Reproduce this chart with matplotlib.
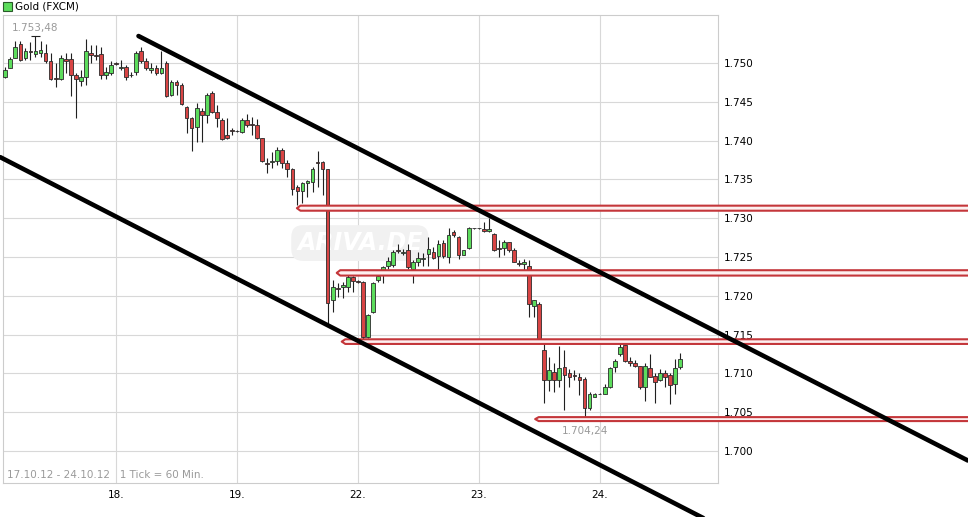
import matplotlib
matplotlib.use('Agg')
import matplotlib.pyplot as plt
from matplotlib.patches import Polygon, Rectangle
import numpy as np

plt.rcParams['font.family'] = ['DejaVu Sans']

# ---------------- data (hourly candles, Gold FXCM, 17.10.12 - 24.10.12) ----------------
opens = [1.7482, 1.7494, 1.7507, 1.7524, 1.7506, 1.7516, 1.7512, 1.7513, 1.7513, 1.7502,
         1.7481, 1.7480, 1.7505, 1.7505, 1.7485, 1.7477, 1.7482, 1.7513, 1.7510, 1.7512,
         1.7484, 1.7487, 1.7500, 1.7493, 1.7495, 1.7485, 1.7489, 1.7515, 1.7502, 1.7491,
         1.7494, 1.7487, 1.7500, 1.7459, 1.7476, 1.7472, 1.7443, 1.7429, 1.7418, 1.7438,
         1.7433, 1.7462, 1.7437, 1.7426, 1.7407, 1.7414, 1.7413, 1.7411, 1.7427, 1.7421,
         1.7420, 1.7403, 1.7371, 1.7372, 1.7374, 1.7388, 1.7371, 1.7363, 1.7340, 1.7335,
         1.7346, 1.7347, 1.7372, 1.7373, 1.7363, 1.7194, 1.7210, 1.7211, 1.7212, 1.7224,
         1.7219, 1.7218, 1.7147, 1.7179, 1.7220, 1.7228, 1.7238, 1.7240, 1.7259, 1.7255,
         1.7259, 1.7235, 1.7243, 1.7248, 1.7254, 1.7256, 1.7251, 1.7268, 1.7250, 1.7282,
         1.7276, 1.7253, 1.7261, 1.7287, 1.7287, 1.7286, 1.7283, 1.7280, 1.7261, 1.7262,
         1.7269, 1.7259, 1.7242, 1.7241, 1.7239, 1.7187, 1.7190, 1.7130, 1.7092, 1.7102,
         1.7091, 1.7108, 1.7100, 1.7098, 1.7096, 1.7093, 1.7055, 1.7070, 1.7074, 1.7074,
         1.7082, 1.7108, 1.7125, 1.7136, 1.7116, 1.7113, 1.7110, 1.7082, 1.7107, 1.7097,
         1.7091, 1.7101, 1.7098, 1.7087, 1.7108]
highs = [1.7495, 1.7508, 1.7529, 1.7529, 1.7519, 1.7527, 1.75348, 1.7529, 1.7525, 1.7513,
         1.7500, 1.7510, 1.7513, 1.7513, 1.7487, 1.7491, 1.7531, 1.7523, 1.7523, 1.7521,
         1.7495, 1.7502, 1.7501, 1.7504, 1.7497, 1.7488, 1.7516, 1.7521, 1.7506, 1.7500,
         1.7497, 1.7516, 1.7502, 1.7478, 1.7478, 1.7474, 1.7444, 1.7430, 1.7448, 1.7442,
         1.7461, 1.7464, 1.7446, 1.7429, 1.7429, 1.7416, 1.7414, 1.7429, 1.7434, 1.7430,
         1.7428, 1.7404, 1.7377, 1.7385, 1.7392, 1.7390, 1.7375, 1.7365, 1.7343, 1.7347,
         1.7349, 1.7366, 1.7386, 1.7374, 1.7364, 1.7220, 1.7217, 1.7218, 1.7231, 1.7225,
         1.7220, 1.7219, 1.7177, 1.7218, 1.7227, 1.7239, 1.7250, 1.7259, 1.7267, 1.7260,
         1.7267, 1.7246, 1.7257, 1.7255, 1.7276, 1.7263, 1.7272, 1.7272, 1.7287, 1.7285,
         1.7277, 1.7259, 1.7289, 1.7288, 1.7288, 1.7295, 1.7300, 1.7281, 1.7272, 1.7272,
         1.7270, 1.7262, 1.7246, 1.7247, 1.7246, 1.7195, 1.7192, 1.7143, 1.7121, 1.7113,
         1.7135, 1.7130, 1.7106, 1.7104, 1.7100, 1.7095, 1.7076, 1.7075, 1.7075, 1.7087,
         1.7108, 1.7119, 1.7144, 1.7137, 1.7121, 1.7117, 1.7110, 1.7113, 1.7125, 1.7100,
         1.7106, 1.7104, 1.7100, 1.7119, 1.7126]
lows = [1.7481, 1.7493, 1.7506, 1.7503, 1.7504, 1.7504, 1.7508, 1.7508, 1.7500, 1.7478,
        1.7469, 1.7478, 1.7487, 1.7457, 1.7429, 1.7470, 1.7472, 1.7500, 1.7504, 1.7480,
        1.7479, 1.7485, 1.7498, 1.7491, 1.7478, 1.7482, 1.7485, 1.7500, 1.7491, 1.7487,
        1.7485, 1.7486, 1.7456, 1.7457, 1.7459, 1.7446, 1.7410, 1.7386, 1.7398, 1.7398,
        1.7423, 1.7435, 1.7417, 1.7401, 1.7402, 1.7407, 1.7411, 1.7410, 1.7417, 1.7407,
        1.7402, 1.7372, 1.7358, 1.7365, 1.7368, 1.7365, 1.7353, 1.7330, 1.7317, 1.7319,
        1.7327, 1.7334, 1.7340, 1.7330, 1.7164, 1.7179, 1.7199, 1.7197, 1.7205, 1.7205,
        1.7217, 1.7145, 1.7146, 1.7178, 1.7218, 1.7216, 1.7235, 1.7237, 1.7255, 1.7252,
        1.7235, 1.7216, 1.7239, 1.7239, 1.7239, 1.7247, 1.7227, 1.7249, 1.7242, 1.7276,
        1.7247, 1.7252, 1.7260, 1.7286, 1.7286, 1.7282, 1.7282, 1.7258, 1.7250, 1.7252,
        1.7257, 1.7243, 1.7238, 1.7233, 1.7173, 1.7173, 1.7144, 1.7062, 1.7078, 1.7076,
        1.7083, 1.7053, 1.7083, 1.7091, 1.7072, 1.70424, 1.7053, 1.7069, 1.7073, 1.7073,
        1.7081, 1.7102, 1.7122, 1.7115, 1.7110, 1.7108, 1.7080, 1.7065, 1.7095, 1.7062,
        1.7090, 1.7082, 1.7060, 1.7074, 1.7106]
closes = [1.7491, 1.7505, 1.7521, 1.7504, 1.7516, 1.7514, 1.7515, 1.7517, 1.7502, 1.7480,
          1.7479, 1.7506, 1.7503, 1.7485, 1.7479, 1.7482, 1.7515, 1.7510, 1.7509, 1.7485,
          1.7489, 1.7498, 1.7499, 1.7495, 1.7482, 1.7484, 1.7513, 1.7502, 1.7493, 1.7494,
          1.7487, 1.7494, 1.7457, 1.7476, 1.7472, 1.7447, 1.7429, 1.7416, 1.7442, 1.7433,
          1.7459, 1.7437, 1.7429, 1.7402, 1.7404, 1.7413, 1.7412, 1.7427, 1.7420, 1.7420,
          1.7403, 1.7374, 1.7370, 1.7374, 1.7388, 1.7371, 1.7363, 1.7338, 1.7335, 1.7346,
          1.7348, 1.7364, 1.7371, 1.7363, 1.7191, 1.7211, 1.7209, 1.7214, 1.7224, 1.7219,
          1.7218, 1.7147, 1.7175, 1.7216, 1.7225, 1.7237, 1.7245, 1.7257, 1.7258, 1.7257,
          1.7237, 1.7244, 1.7249, 1.7249, 1.7260, 1.7249, 1.7267, 1.7251, 1.7279, 1.7278,
          1.7253, 1.7259, 1.7288, 1.7287, 1.7287, 1.7283, 1.7286, 1.7259, 1.7260, 1.7270,
          1.7259, 1.7244, 1.7241, 1.7244, 1.7189, 1.7194, 1.7145, 1.7092, 1.7105, 1.7092,
          1.7107, 1.7098, 1.7095, 1.7097, 1.7092, 1.7055, 1.7074, 1.7074, 1.7074, 1.7083,
          1.7107, 1.7116, 1.7134, 1.7116, 1.7113, 1.7110, 1.7082, 1.7109, 1.7096, 1.7089,
          1.7101, 1.7095, 1.7085, 1.7107, 1.7118]

day_tick_pos = [22, 46, 70, 94, 118]
day_tick_labels = ['18.', '19.', '22.', '23.', '24.']
price_ticks = [1.700, 1.705, 1.710, 1.715, 1.720, 1.725, 1.730, 1.735, 1.740, 1.745, 1.750]

# trend channel (start/end candle index and price)
upper_trend_x = [26.45, 191.1]
upper_trend_y = [1.75348, 1.69878]
lower_trend_x = [-1.0, 140.3]
lower_trend_y = [1.73787, 1.69079]

# horizontal support / resistance markers
level_top = [1.73162, 1.72330, 1.71440, 1.70437]
level_bottom = [1.73097, 1.72261, 1.71380, 1.70386]
level_start = [57.9, 65.8, 66.8, 105.2]

high_label = '1.753,48'
low_label = '1.704,24'

# ---------------- figure ----------------
W, H = 968, 517
fig = plt.figure(figsize=(W / 100, H / 100), dpi=100)
ax = fig.add_axes([3 / W, 1 - 483 / H, 715 / W, 468 / H])

o = np.array(opens); h = np.array(highs); l = np.array(lows); c = np.array(closes)
x = np.arange(len(o))
up = c >= o

ax.vlines(x, l, h, color='#202020', lw=0.8, zorder=3)
ax.bar(x, np.abs(c - o), bottom=np.minimum(o, c), width=0.74,
       color=np.where(up, '#5cdc5c', '#d84444'), edgecolor='#2b2b2b',
       linewidth=0.6, zorder=4)

# levels
for top, bot, s in zip(level_top, level_bottom, level_start):
    mid = (top + bot) / 2
    poly = Polygon([(260, top), (s + 0.7, top), (s, mid), (s + 0.7, bot), (260, bot)],
                   closed=False, facecolor='#fdf0f0', edgecolor='#c4363a', lw=1.5,
                   joinstyle='round', clip_on=False, zorder=5)
    ax.add_patch(poly)

# trend lines
ax.plot(upper_trend_x, upper_trend_y, color='black', lw=3.3, solid_capstyle='round',
        clip_on=False, zorder=6)
ax.plot(lower_trend_x, lower_trend_y, color='black', lw=3.3, solid_capstyle='round',
        clip_on=False, zorder=6)

# high / low markers
ih = int(np.argmax(h)); il = int(np.argmin(l))
ax.hlines(h[ih], ih - 0.8, ih + 0.8, color='#202020', lw=0.8, zorder=4)
ax.hlines(l[il], il - 1.0, il + 1.0, color='#202020', lw=0.8, zorder=4)
ax.annotate(high_label, xy=(ih, h[ih]), xytext=(0, 2.5), textcoords='offset points',
            ha='center', va='bottom', color='#9a9a9a', fontsize=7.5, zorder=7)
ax.annotate(low_label, xy=(il, l[il]), xytext=(0, -5.5), textcoords='offset points',
            ha='center', va='top', color='#9a9a9a', fontsize=7.5, zorder=7)

# watermark
ax.text(70.4, 1.7268, 'ARIVA.DE', fontsize=17, fontweight='bold', fontstyle='italic',
        color='white', ha='center', va='center', zorder=1,
        bbox=dict(boxstyle='round,pad=0.25,rounding_size=0.5', fc='#f1f1f1', ec='none'))

ax.text(0.006, 0.006, '17.10.12 - 24.10.12   1 Tick = 60 Min.', transform=ax.transAxes,
        color='#9a9a9a', fontsize=7.5, ha='left', va='bottom', zorder=7)

ax.set_xlim(-0.45, 141.5)
ax.set_ylim(1.69588, 1.75619)
ax.set_xticks(day_tick_pos)
ax.set_xticklabels(day_tick_labels)
ax.set_yticks(price_ticks)
ax.set_yticklabels(['{:.3f}'.format(v) for v in price_ticks])
ax.yaxis.tick_right()
ax.tick_params(axis='y', length=0, pad=4, labelsize=7.5, colors='black')
ax.tick_params(axis='x', length=0, pad=5, labelsize=7.5, colors='black')
ax.grid(True, color='#d8d8d8', lw=0.8)
ax.set_axisbelow(True)
for sp in ax.spines.values():
    sp.set_color('#cccccc')
    sp.set_linewidth(0.8)

# header
fig.add_artist(Rectangle((3 / W, 1 - 11 / H), 9 / W, 9 / H, transform=fig.transFigure,
                         facecolor='#5cdc5c', edgecolor='#2a5a2a', lw=0.8))
fig.text(15 / W, 1 - 6.5 / H, 'Gold (FXCM)', fontsize=7.5, va='center', ha='left', color='black')

fig.savefig('out.png', dpi=100)
